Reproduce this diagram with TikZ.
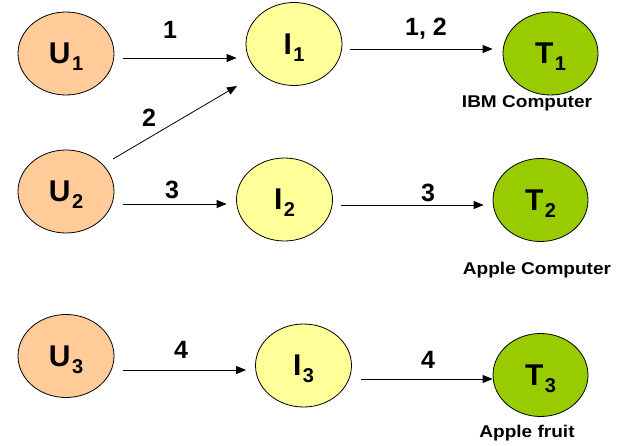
\documentclass[tikz,border=0pt]{standalone}
\usepackage{fontspec}
\setmainfont{Liberation Sans}
\newfontfamily\capfont[FakeStretch=1.12]{Liberation Sans}
\usetikzlibrary{shapes.geometric,arrows.meta}
\definecolor{ucol}{RGB}{255,204,153}
\definecolor{icol}{RGB}{255,255,153}
\definecolor{tcol}{RGB}{153,204,0}
\newcommand\nsub[2]{#1\hspace{1.5pt}\raisebox{-7pt}[0pt][0pt]{\fontsize{20}{20}\selectfont #2}}
\tikzset{
  blob/.style={ellipse, draw=black, line width=0.8pt, minimum width=96pt, minimum height=83pt, inner sep=0pt,
    font=\fontsize{30}{30}\selectfont\bfseries},
  ublob/.style={blob, fill=ucol},
  iblob/.style={blob, fill=icol},
  tblob/.style={blob, fill=tcol, minimum width=95pt},
  arr/.style={line width=0.8pt, -{Triangle[length=10pt,width=8pt]}},
  elab/.style={inner sep=0pt, font=\fontsize{25}{25}\selectfont\bfseries},
  captext/.style={inner sep=0pt, font=\capfont\fontsize{17}{17}\selectfont\bfseries}
}
\begin{document}
\begin{tikzpicture}[x=1pt,y=-1pt]
\useasboundingbox (0,0) rectangle (636,446);
% nodes
\node[ublob] (u1) at (66,53.5) {\nsub{U}{1}};
\node[ublob] (u2) at (66,191.5) {\nsub{U}{2}};
\node[ublob] (u3) at (66,356) {\nsub{U}{3}};
\node[iblob] (i1) at (294,44) {\nsub{I}{1}};
\node[iblob] (i2) at (284.5,199.5) {\nsub{I}{2}};
\node[iblob] (i3) at (303.5,365.5) {\nsub{I}{3}};
\node[tblob] (t1) at (550.5,53.5) {\nsub{T}{1}};
\node[tblob] (t2) at (540.5,200) {\nsub{T}{2}};
\node[tblob] (t3) at (540.5,375) {\nsub{T}{3}};
% captions
\node[captext] (c1) at (527,103) {IBM Computer};
\node[captext] (c2) at (537,270) {Apple Computer};
\node[captext] (c3) at (527,433) {Apple fruit};
% connectors
\draw[arr] ([xshift=9pt,yshift=-4.5pt]u1.east) -- ([xshift=-9pt,yshift=-14pt]i1.west);
\draw[arr] ([xshift=47pt,yshift=32.5pt]u2.center) -- ([xshift=-57pt,yshift=-42pt]i1.center);
\draw[arr] ([xshift=9pt,yshift=-12.5pt]u2.east) -- ([xshift=-9.5pt,yshift=-4.5pt]i2.west);
\draw[arr] ([xshift=8pt,yshift=-5pt]i1.east) -- ([xshift=-10pt,yshift=4.5pt]t1.west);
\draw[arr] ([xshift=8.5pt,yshift=-5.5pt]i2.east) -- ([xshift=-9pt,yshift=-5pt]t2.west);
\draw[arr] ([xshift=9pt,yshift=-14pt]u3.east) -- ([xshift=-9pt,yshift=-4.5pt]i3.west);
\draw[arr] ([xshift=9pt,yshift=-13.5pt]i3.east) -- ([yshift=-4pt]t3.west);
% edge labels
\node[elab] (l1) at (170,29.5) {1};
\node[elab] (l2) at (149,117.5) {2};
\node[elab] (l3) at (172,190) {3};
\node[elab] (l12) at (426,29) {1, 2};
\node[elab] (l3b) at (428,193) {3};
\node[elab] (l4) at (181,350) {4};
\node[elab] (l4b) at (428,360) {4};
\end{tikzpicture}
\end{document}
